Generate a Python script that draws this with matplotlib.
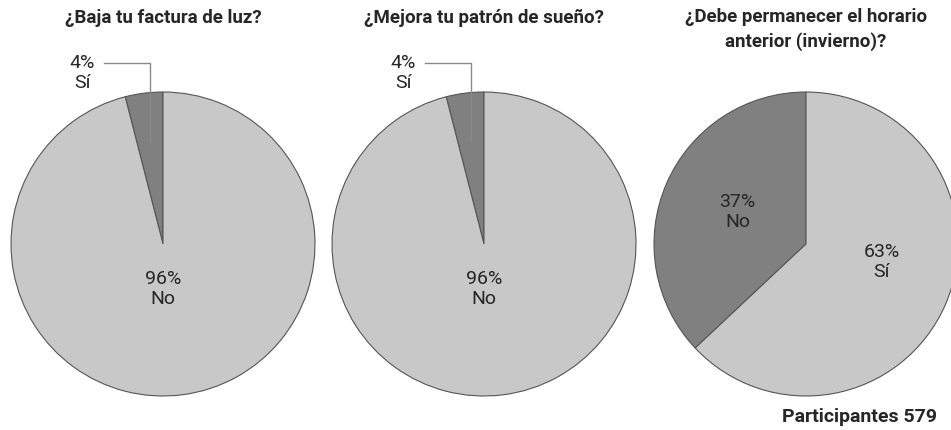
import matplotlib
matplotlib.use("Agg")
import matplotlib.pyplot as plt

plt.rcParams['font.family'] = ['Roboto', 'DejaVu Sans']

# ---------------------- Данные ----------------------
titles = ["¿Baja tu factura de luz?",
          "¿Mejora tu patrón de sueño?",
          "¿Debe permanecer el horario\nanterior (invierno)?"]
# first value = dark slice (counterclockwise from top), second = light slice
dark_labels = ["Sí", "Sí", "No"]
light_labels = ["No", "No", "Sí"]
dark_values = [4, 4, 37]
light_values = [96, 96, 63]
participants = 579

W, H = 951, 431
DARK = "#808080"
LIGHT = "#c8c8c8"
EDGE = "#555555"
TXT = "#262626"
LBL = 14

fig = plt.figure(figsize=(W / 100, H / 100), dpi=100)

# pie centers in pixels, radius in pixels
centers = [(163, 245), (484, 245), (806, 245)]
R = 152

for i, (cx, cy) in enumerate(centers):
    ax = fig.add_axes([(cx - R) / W, (H - cy - R) / H, 2 * R / W, 2 * R / H])
    ax.pie([dark_values[i], light_values[i]], colors=[DARK, LIGHT],
           startangle=90, counterclock=True, radius=1,
           wedgeprops=dict(edgecolor=EDGE, linewidth=0.8))
    ax.set_xlim(-1, 1)
    ax.set_ylim(-1, 1)
    ax.set_aspect('equal')
    ax.axis('off')

    if '\n' in titles[i]:
        fig.text(cx / W, 1 - 8 / H, titles[i], ha='center', va='top',
                 fontsize=13.5, fontweight='bold', color=TXT, linespacing=1.4)
    else:
        fig.text(cx / W, 1 - 18 / H, titles[i], ha='center', va='center',
                 fontsize=13.5, fontweight='bold', color=TXT)

    if dark_values[i] < 10:
        # small slice -> label outside with leader line
        ax.text(-0.53, 1.13, f"{dark_values[i]}%\n{dark_labels[i]}", ha='center', va='center',
                fontsize=LBL, color=TXT, linespacing=1.15, clip_on=False)
        ax.plot([-0.39, -0.085, -0.085], [1.19, 1.19, 0.68], color="#8a8a8a",
                lw=1.0, clip_on=False)
        ax.text(0, -0.29, f"{light_values[i]}%\n{light_labels[i]}", ha='center', va='center',
                fontsize=LBL, color=TXT, linespacing=1.15)
    else:
        ax.text(-0.45, 0.22, f"{dark_values[i]}%\n{dark_labels[i]}", ha='center', va='center',
                fontsize=LBL, color=TXT, linespacing=1.15)
        ax.text(0.50, -0.11, f"{light_values[i]}%\n{light_labels[i]}", ha='center', va='center',
                fontsize=LBL, color=TXT, linespacing=1.15)

fig.text(937 / W, 1 - 417 / H, f"Participantes {participants}", ha='right', va='center',
         fontsize=14, fontweight='bold', color=TXT)

fig.savefig("out.png", dpi=100, facecolor='white')
